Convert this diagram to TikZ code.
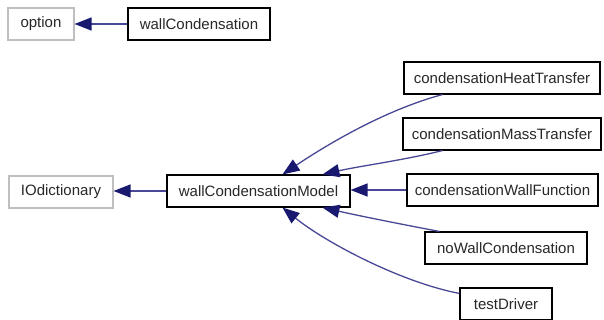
\documentclass[tikz,border=0pt]{standalone}
\usepackage{fontspec}
\setmainfont{Liberation Sans}
\usetikzlibrary{arrows.meta,calc}
\definecolor{edgeblue}{RGB}{25,25,112}
\definecolor{edgeline}{RGB}{72,72,150}
\definecolor{boxgray}{RGB}{191,191,191}
\definecolor{txt}{RGB}{40,40,40}
\tikzset{
  cls/.style={draw=black, line width=1.1pt, fill=white, minimum height=32pt, inner xsep=0pt, inner ysep=0pt, font=\fontsize{15}{18}\selectfont, text=txt},
  ext/.style={cls, draw=boxgray},
  inh/.style={draw=edgeline, line width=1.3pt, -{Triangle[length=17pt,width=13pt,fill=edgeblue,color=edgeblue]}}
}
\begin{document}
\begin{tikzpicture}[x=1pt,y=-1pt]
\useasboundingbox (0,0) rectangle (604,320);
% nodes
\node[ext, minimum width=66pt] (opt) at (41,24) {option};
\node[cls, minimum width=142pt] (wc) at (199,24) {wallCondensation};
\node[ext, minimum width=104pt] (iod) at (61,192) {IOdictionary};
\node[cls, minimum width=183pt] (wcm) at (258.5,191) {wallCondensationModel};
\node[cls, minimum width=196pt] (ht) at (502,78) {condensationHeatTransfer};
\node[cls, minimum width=198pt] (mt) at (502,134) {condensationMassTransfer};
\node[cls, minimum width=191pt] (wf) at (502.5,190) {condensationWallFunction};
\node[cls, minimum width=162pt] (nw) at (506,248) {noWallCondensation};
\node[cls, minimum width=92pt] (td) at (506,304) {testDriver};
% anchor coordinates
\coordinate (t1) at ($(wcm.north west)+(116,0)$);
\coordinate (t2) at ($(wcm.north west)+(156,0)$);
\coordinate (b1) at ($(wcm.south west)+(116,0)$);
\coordinate (b2) at ($(wcm.south west)+(156,0)$);
\coordinate (s1) at ($(ht.south west)+(39,0)$);
\coordinate (s2) at ($(mt.south west)+(40,0)$);
\coordinate (s4) at ($(nw.north west)+(15,0)$);
\coordinate (s5) at ($(td.north west)+(0,6)$);
% edges
\draw[inh] (wc.west) -- (opt.east);
\draw[inh] (wcm.west) -- (wcm.west -| iod.east);
\draw[inh] (s1) .. controls (385,110) and (328,144) .. (t1);
\draw[inh] (s2) .. controls (405,160) and (360,166) .. (t2);
\draw[inh] (wf.west) -- (wf.west -| wcm.east);
\draw[inh] (s4) .. controls (400,224) and (360,216) .. (b2);
\draw[inh] (s5) .. controls (400,282) and (325,242) .. (b1);
\end{tikzpicture}
\end{document}
